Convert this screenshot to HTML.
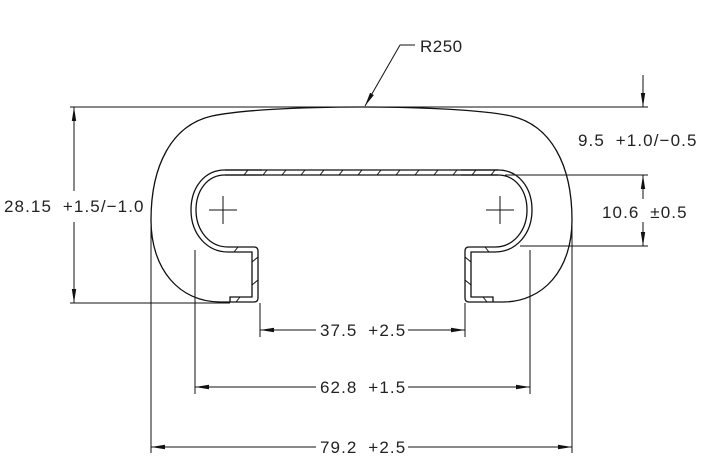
<!DOCTYPE html>
<html><head><meta charset="utf-8"><style>
html,body{margin:0;padding:0;background:#fff;}
svg{display:block;}
text{font-family:"Liberation Sans",sans-serif;font-size:17px;fill:#222;letter-spacing:1.1px;word-spacing:5px;}
</style></head><body>
<svg width="720" height="468" viewBox="0 0 720 468" xmlns="http://www.w3.org/2000/svg">
<defs>
<marker id="a" markerWidth="14" markerHeight="6" refX="14" refY="3" orient="auto" markerUnits="userSpaceOnUse">
<path d="M0,0.8 L14,3 L0,5.2 Z" fill="#111"/></marker>
<g id="half" fill="none" stroke="#111" stroke-width="1.3">
<path d="M361.5,107 C300,107 240,110 212,116 C172,125 151,165 151,220 C151,270 180,302 220,302 L254,302"/>
<path d="M262,170 L225,170 C204,170 191,188 191,210 C191,234 207,252 228,252 L252,252 L252,297 L230,297 L230,302"/>
<path d="M262,175 L225,175 C207,175 196,191 196,210 C196,230 209,247 228,247 L254,247 Q258,247 258,251 L258,298 Q258,302 254,302"/>
<path d="M238,247 L234,252 M252,262 L258,257 M252,285 L258,280 M240,297 L236,302" stroke-width="1"/>
<path d="M209,210 L237,210 M223,196 L223,224" stroke-width="1"/>
</g>
</defs>
<use href="#half"/>
<use href="#half" transform="translate(723,0) scale(-1,1)"/>
<g fill="none" stroke="#111" stroke-width="1.3">
<path d="M225,170 L498,170 M225,175 L498,175"/>
<path d="M244,175 L248,170 M263,175 L267,170 M282,175 L286,170 M301,175 L305,170 M320,175 L324,170 M339,175 L343,170 M358,175 L362,170 M377,175 L381,170 M396,175 L400,170 M415,175 L419,170 M434,175 L438,170 M453,175 L457,170 M472,175 L476,170 M491,175 L495,170" stroke-width="1"/>
</g>
<g fill="none" stroke="#111" stroke-width="1">
<path d="M70,107 L648,107"/>
<path d="M70,303 L230,303"/>
<path d="M74,191 L74,107" marker-end="url(#a)"/>
<path d="M74,222 L74,303" marker-end="url(#a)"/>
<path d="M643,75 L643,107" marker-end="url(#a)"/>
<path d="M505,175 L648,175 M520,246 L648,246"/>
<path d="M643,199 L643,175" marker-end="url(#a)"/>
<path d="M643,222 L643,246" marker-end="url(#a)"/>
<path d="M400,45 L415,45"/>
<path d="M400,45 L365,106" marker-end="url(#a)"/>
<path d="M260,303 L260,337 M465,303 L465,337"/>
<path d="M195,250 L195,394 M530,250 L530,394"/>
<path d="M151,225 L151,453 M572,225 L572,453"/>
<path d="M316,330 L260,330" marker-end="url(#a)"/>
<path d="M408,330 L465,330" marker-end="url(#a)"/>
<path d="M316,387 L195,387" marker-end="url(#a)"/>
<path d="M408,387 L530,387" marker-end="url(#a)"/>
<path d="M316,447 L151,447" marker-end="url(#a)"/>
<path d="M408,447 L572,447" marker-end="url(#a)"/>
</g>
<text x="420" y="52" style="letter-spacing:0.5px">R250</text>
<text x="4" y="212">28.15 +1.5/−1.0</text>
<text x="578" y="146">9.5 +1.0/−0.5</text>
<text x="602" y="218">10.6 ±0.5</text>
<text x="320" y="336">37.5 +2.5</text>
<text x="320" y="393">62.8 +1.5</text>
<text x="320" y="453">79.2 +2.5</text>
</svg>
</body></html>
